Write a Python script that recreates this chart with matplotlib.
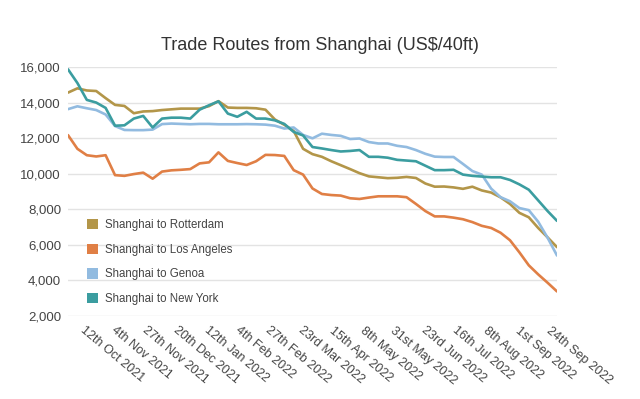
import numpy as np
import pandas as pd
import matplotlib
matplotlib.use("Agg")
import matplotlib.pyplot as plt
import matplotlib.transforms as mtransforms
from matplotlib.patches import Patch

plt.rcParams['font.family'] = ['Liberation Sans', 'DejaVu Sans']

# weekly readings, 25 Sep 2021 .. 24 Sep 2022
dates = pd.date_range('2021-09-25', periods=53, freq='7D')

rotterdam = [14560, 14800, 14680, 14650, 14250, 13870, 13810, 13400, 13500, 13520,
             13580, 13620, 13660, 13660, 13660, 13800, 14080, 13720, 13700, 13700,
             13680, 13600, 13050, 12750, 12400, 11400, 11100, 10950, 10700, 10480,
             10260, 10030, 9850, 9800, 9750, 9770, 9820, 9760, 9450, 9270,
             9280, 9230, 9150, 9270, 9060, 8940, 8670, 8300, 7800, 7550,
             6950, 6420, 5870]
los_angeles = [12170, 11400, 11040, 10970, 11040, 9920, 9880, 9980, 10060, 9720,
               10120, 10190, 10220, 10260, 10580, 10640, 11200, 10720, 10600, 10490,
               10700, 11060, 11050, 11000, 10200, 9950, 9170, 8860, 8800, 8770,
               8620, 8580, 8660, 8730, 8730, 8730, 8680, 8300, 7900, 7600,
               7600, 7530, 7440, 7280, 7070, 6950, 6680, 6260, 5580, 4850,
               4340, 3870, 3380]
genoa = [13630, 13790, 13680, 13580, 13330, 12680, 12460, 12450, 12450, 12480,
         12790, 12820, 12800, 12780, 12800, 12800, 12780, 12780, 12780, 12790,
         12780, 12760, 12700, 12540, 12600, 12180, 11990, 12250, 12180, 12130,
         11950, 11980, 11780, 11700, 11700, 11570, 11500, 11330, 11120, 10960,
         10940, 10940, 10550, 10150, 9950, 9160, 8680, 8450, 8070, 7950,
         7300, 6400, 5400]
new_york = [15870, 15100, 14150, 14000, 13700, 12700, 12720, 13100, 13250, 12600,
            13100, 13150, 13150, 13100, 13600, 13850, 14070, 13380, 13200, 13480,
            13100, 13100, 13000, 12800, 12350, 12150, 11500, 11420, 11330, 11250,
            11280, 11330, 10950, 10950, 10900, 10780, 10740, 10700, 10450, 10200,
            10200, 10220, 9950, 9880, 9840, 9800, 9800, 9650, 9400, 9100,
            8500, 7900, 7350]

names = ['Shanghai to Rotterdam', 'Shanghai to Los Angeles',
         'Shanghai to Genoa', 'Shanghai to New York']
colors = ['#b39649', '#e07f45', '#92bbe0', '#3b9da0']

tick_dates = ['2021-10-12', '2021-11-04', '2021-11-27', '2021-12-20', '2022-01-12',
              '2022-02-04', '2022-02-27', '2022-03-23', '2022-04-15', '2022-05-08',
              '2022-05-31', '2022-06-23', '2022-07-16', '2022-08-08', '2022-09-01',
              '2022-09-24']
tick_labels = ['12th Oct 2021', '4th Nov 2021', '27th Nov 2021', '20th Dec 2021',
               '12th Jan 2022', '4th Feb 2022', '27th Feb 2022', '23rd Mar 2022',
               '15th Apr 2022', '8th May 2022', '31st May 2022', '23rd Jun 2022',
               '16th Jul 2022', '8th Aug 2022', '1st Sep 2022', '24th Sep 2022']

fig = plt.figure(figsize=(6.4, 3.99), dpi=100)
ax = fig.add_axes([68 / 640, 1 - 316 / 399, (557 - 68) / 640, (316 - 67) / 399])

for ys, c in zip([rotterdam, los_angeles, genoa, new_york], colors):
    ax.plot(dates, ys, color=c, lw=1.9, solid_joinstyle='round', solid_capstyle='round')

ax.set_xlim(dates[0], dates[-1])
ax.set_ylim(2000, 16000)
ax.set_yticks(np.arange(2000, 16001, 2000))
ax.yaxis.set_major_formatter(plt.FuncFormatter(lambda v, p: f'{int(v):,}'))
ax.grid(axis='y', color='#e3e3e3', lw=1)
ax.set_axisbelow(True)
for s in ax.spines.values():
    s.set_visible(False)
ax.tick_params(axis='both', length=0, labelcolor='#444444')
ax.tick_params(axis='y', pad=5, labelsize=9.5)
ax.tick_params(axis='x', pad=6, labelsize=9)

ax.set_xticks(pd.to_datetime(tick_dates))
ax.set_xticklabels(tick_labels, rotation=-40, ha='left', va='top', rotation_mode='anchor')
shift = mtransforms.ScaledTranslation(-0.05, 0, fig.dpi_scale_trans)
for lbl in ax.get_xticklabels():
    lbl.set_transform(lbl.get_transform() + shift)

handles = [Patch(facecolor=c, edgecolor='none') for c in colors]
ax.legend(handles, names, loc='upper left', bbox_to_anchor=(87 / 640, 1 - 219 / 399),
          bbox_transform=fig.transFigure, frameon=False, fontsize=8.3,
          handlelength=0.98, handleheight=0.98, handletextpad=0.6,
          labelspacing=1.1, borderpad=0, borderaxespad=0, labelcolor='#444444')

fig.text(0.5, 1 - 45 / 399, 'Trade Routes from Shanghai (US$/40ft)', ha='center',
         va='center', fontsize=13, color='#333333')

plt.savefig('out.png', dpi=100)
